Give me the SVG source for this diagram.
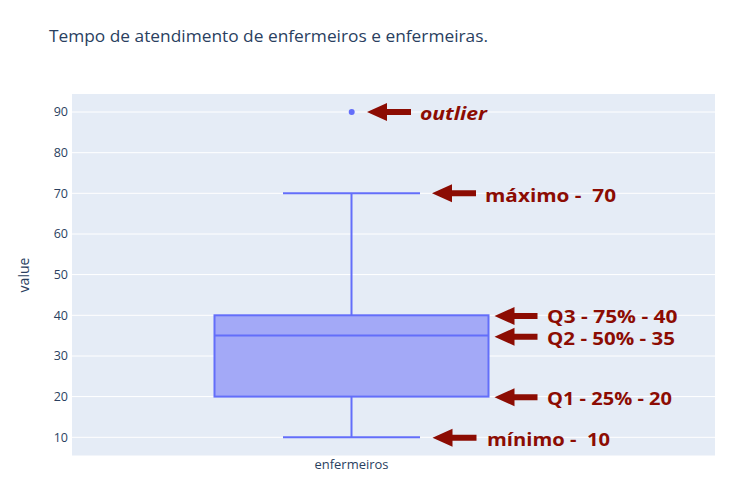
<svg xmlns="http://www.w3.org/2000/svg" width="754" height="502" viewBox="0 0 754 502">
<style>
.title{font-family:"Open Sans","DejaVu Sans",sans-serif;font-size:17px;fill:#2a3f5f}
.tick{font-family:"Open Sans","DejaVu Sans",sans-serif;font-size:12.5px;fill:#2a3f5f;text-anchor:end}
.axis{font-family:"Open Sans","DejaVu Sans",sans-serif;font-size:14px;fill:#2a3f5f;text-anchor:middle}
.grid{stroke:#ffffff;stroke-width:1}
.box{fill:#a3a9f7;stroke:#636efa;stroke-width:2}
.wh{stroke:#636efa;stroke-width:2;fill:none}
.ann{font-family:"Open Sans","Liberation Sans",sans-serif;font-size:17px;font-weight:700;fill:#8c0c03;white-space:pre}
.arr{fill:#8c0c03}
</style>
<rect width="754" height="502" fill="#ffffff"/>
<text class="title" x="49" y="42" textLength="439" lengthAdjust="spacingAndGlyphs">Tempo de atendimento de enfermeiros e enfermeiras.</text>
<g id="plot">
<rect x="72" y="94" width="643" height="361.5" fill="#e5ecf6"/>
<g class="grid">
<line x1="72" y1="112" x2="715" y2="112"/>
<line x1="72" y1="152.7" x2="715" y2="152.7"/>
<line x1="72" y1="193.3" x2="715" y2="193.3"/>
<line x1="72" y1="234" x2="715" y2="234"/>
<line x1="72" y1="274.6" x2="715" y2="274.6"/>
<line x1="72" y1="315.3" x2="715" y2="315.3"/>
<line x1="72" y1="356" x2="715" y2="356"/>
<line x1="72" y1="396.6" x2="715" y2="396.6"/>
<line x1="72" y1="437.3" x2="715" y2="437.3"/>
</g>
<g>
<text class="tick" x="68" y="116.3">90</text>
<text class="tick" x="68" y="157">80</text>
<text class="tick" x="68" y="197.6">70</text>
<text class="tick" x="68" y="238.3">60</text>
<text class="tick" x="68" y="278.9">50</text>
<text class="tick" x="68" y="319.6">40</text>
<text class="tick" x="68" y="360.3">30</text>
<text class="tick" x="68" y="400.9">20</text>
<text class="tick" x="68" y="441.6">10</text>
</g>
<text class="axis" transform="translate(29 275) rotate(-90)">value</text>
<text class="tick" style="text-anchor:middle" x="351.5" y="469" textLength="74" lengthAdjust="spacingAndGlyphs">enfermeiros</text>
</g>
<g id="boxplot">
<line class="wh" x1="351.5" y1="193.3" x2="351.5" y2="315.3"/>
<line class="wh" x1="351.5" y1="396.6" x2="351.5" y2="437.3"/>
<line class="wh" x1="283" y1="193.3" x2="420" y2="193.3"/>
<line class="wh" x1="283" y1="437.3" x2="420" y2="437.3"/>
<rect class="box" x="214.5" y="315.3" width="274" height="81.3"/>
<line class="wh" x1="214.5" y1="335.6" x2="488.5" y2="335.6"/>
<circle cx="351.7" cy="112" r="3" fill="#636efa"/>
</g>
<g id="labels">
<text class="ann" x="420" y="120" font-style="italic" textLength="67" lengthAdjust="spacingAndGlyphs">outlier</text>
<text class="ann" x="485" y="201.5" textLength="131" lengthAdjust="spacingAndGlyphs">máximo -  70</text>
<text class="ann" x="547" y="323" textLength="130.5" lengthAdjust="spacingAndGlyphs">Q3 - 75% - 40</text>
<text class="ann" x="547" y="344.5" textLength="128" lengthAdjust="spacingAndGlyphs">Q2 - 50% - 35</text>
<text class="ann" x="547" y="404.5" textLength="125" lengthAdjust="spacingAndGlyphs">Q1 - 25% - 20</text>
<text class="ann" x="487" y="445.5" textLength="123" lengthAdjust="spacingAndGlyphs">mínimo -  10</text>
</g>
<g id="connectors" class="arr">
<polygon points="367,112 387,103 387,109 411,109 411,115 387,115 387,121"/>
<polygon points="432,193.3 452,184.3 452,190.3 476,190.3 476,196.3 452,196.3 452,202.3"/>
<polygon points="494.5,316 514.5,307 514.5,313 537.5,313 537.5,319 514.5,319 514.5,325"/>
<polygon points="494.5,336.7 514.5,327.7 514.5,333.7 537.5,333.7 537.5,339.7 514.5,339.7 514.5,345.7"/>
<polygon points="494.5,397.3 514.5,388.3 514.5,394.3 537.5,394.3 537.5,400.3 514.5,400.3 514.5,406.3"/>
<polygon points="432.5,437.7 452.5,428.7 452.5,434.7 476.5,434.7 476.5,440.7 452.5,440.7 452.5,446.7"/>
</g>
</svg>
